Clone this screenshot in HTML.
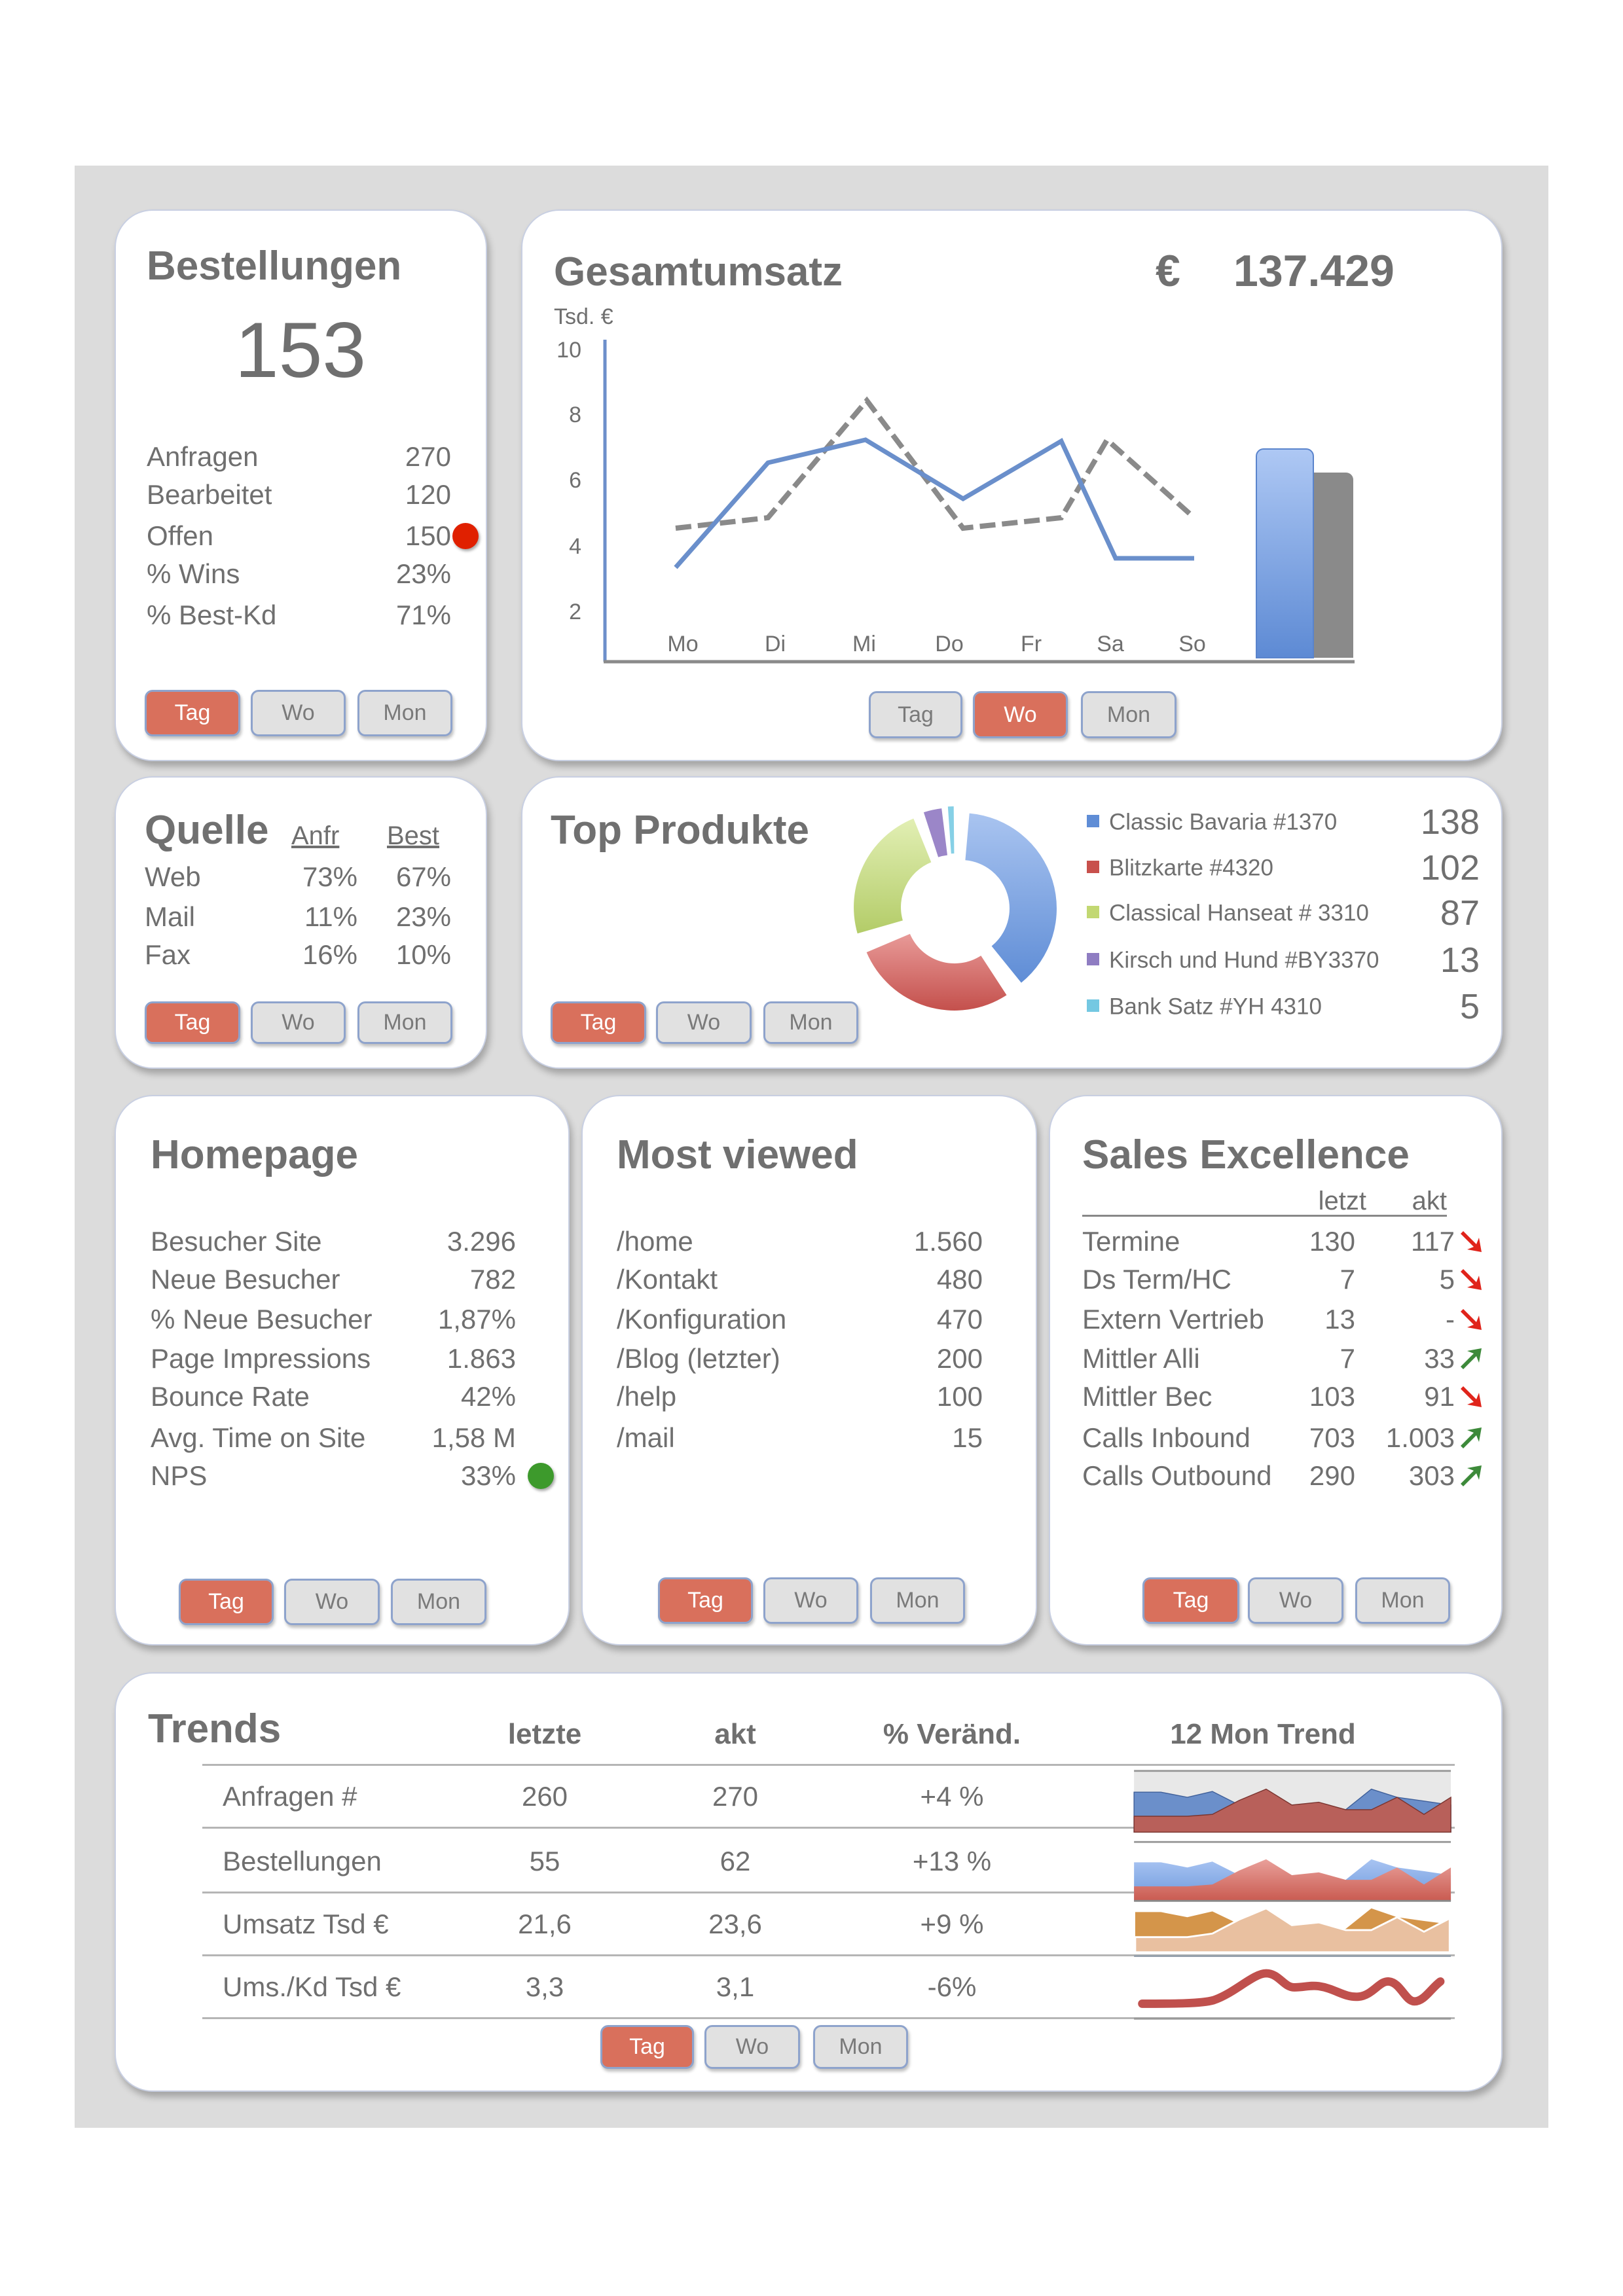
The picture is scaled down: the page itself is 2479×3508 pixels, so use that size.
<!DOCTYPE html>
<html><head><meta charset="utf-8">
<style>
html,body{margin:0;padding:0;}
body{width:2479px;height:3508px;position:relative;background:#fff;font-family:"Liberation Sans",sans-serif;color:#6f6f6f;overflow:hidden;}
.bg{position:absolute;left:114px;top:253px;width:2251px;height:2998px;background:#dcdcdc;}
.p{position:absolute;background:#fff;border:2px solid #c8cfe2;border-radius:58px;box-shadow:4px 8px 10px rgba(0,0,0,0.25);}
.t{position:absolute;white-space:nowrap;line-height:1;transform:translateY(-50%);}
.tc{position:absolute;white-space:nowrap;line-height:1;transform:translate(-50%,-50%);}
.h{font-weight:bold;font-size:62px;color:#707070;}
.r{font-size:42px;}
.b{position:absolute;box-sizing:border-box;border:3px solid #8ea3cc;border-radius:12px;background:#e1e1e1;color:#7a7a7a;font-size:34px;display:flex;align-items:center;justify-content:center;box-shadow:2px 4px 5px rgba(0,0,0,0.25);}
.b.a{background:#d9705c;color:#fff;}
.ln{position:absolute;height:3px;background:#b5b5b5;}
</style></head><body>
<div class="bg"></div>

<!-- Bestellungen -->
<div class="p" style="left:175px;top:320px;width:565px;height:839px;"></div>
<div class="t h" style="left:224px;top:407px;">Bestellungen</div>
<div class="tc" style="left:459px;top:535px;font-size:120px;color:#6f6f6f;">153</div>
<div class="t r" style="left:224px;top:698px;">Anfragen</div><div class="t r" style="right:1790px;top:698px;">270</div>
<div class="t r" style="left:224px;top:756px;">Bearbeitet</div><div class="t r" style="right:1790px;top:756px;">120</div>
<div class="t r" style="left:224px;top:819px;">Offen</div><div class="t r" style="right:1790px;top:819px;">150</div>
<div class="t r" style="left:224px;top:877px;">% Wins</div><div class="t r" style="right:1790px;top:877px;">23%</div>
<div class="t r" style="left:224px;top:940px;">% Best-Kd</div><div class="t r" style="right:1790px;top:940px;">71%</div>
<div style="position:absolute;left:691px;top:799px;width:40px;height:40px;border-radius:50%;background:#e02000;box-shadow:2px 3px 4px rgba(0,0,0,0.35);"></div>
<div class="b a" style="left:221px;top:1054px;width:146px;height:71px;">Tag</div>
<div class="b" style="left:383px;top:1054px;width:145px;height:71px;">Wo</div>
<div class="b" style="left:546px;top:1054px;width:145px;height:71px;">Mon</div>

<!-- Gesamtumsatz -->
<div class="p" style="left:796px;top:320px;width:1495px;height:839px;"></div>
<div class="t h" style="left:846px;top:416px;">Gesamtumsatz</div>
<div class="t h" style="left:1765px;top:414px;font-size:68px;">€</div>
<div class="t h" style="left:1884px;top:414px;font-size:68px;">137.429</div>
<div class="t" style="left:846px;top:484px;font-size:34px;">Tsd. €</div>
<div class="t" style="right:1591px;top:535px;font-size:34px;">10</div>
<div class="t" style="right:1591px;top:634px;font-size:34px;">8</div>
<div class="t" style="right:1591px;top:734px;font-size:34px;">6</div>
<div class="t" style="right:1591px;top:835px;font-size:34px;">4</div>
<div class="t" style="right:1591px;top:935px;font-size:34px;">2</div>
<div class="tc" style="left:1043px;top:984px;font-size:34px;">Mo</div>
<div class="tc" style="left:1184px;top:984px;font-size:34px;">Di</div>
<div class="tc" style="left:1320px;top:984px;font-size:34px;">Mi</div>
<div class="tc" style="left:1450px;top:984px;font-size:34px;">Do</div>
<div class="tc" style="left:1575px;top:984px;font-size:34px;">Fr</div>
<div class="tc" style="left:1696px;top:984px;font-size:34px;">Sa</div>
<div class="tc" style="left:1821px;top:984px;font-size:34px;">So</div>
<svg style="position:absolute;left:0;top:0;" width="2479" height="1200">
<defs><linearGradient id="bb" x1="0" y1="0" x2="0" y2="1"><stop offset="0" stop-color="#aec8f4"/><stop offset="1" stop-color="#5d8ad4"/></linearGradient></defs>
<line x1="924" y1="519" x2="924" y2="1011" stroke="#6d8fca" stroke-width="5"/>
<line x1="922" y1="1011" x2="2069" y2="1011" stroke="#8a8a8a" stroke-width="5"/>
<polyline points="1032,807 1173,791 1324,612 1471,807 1621,791 1691,672 1824,791" fill="none" stroke="#8a8a8a" stroke-width="8" stroke-dasharray="24,10"/>
<polyline points="1032,867 1173,707 1322,672 1471,762 1621,674 1704,853 1824,853" fill="none" stroke="#6a8fcb" stroke-width="7"/>
<path d="M2006,722 h50 a11,11 0 0 1 11,11 V1005 h-61 Z" fill="#8a8a8a"/>
<path d="M1919,1005 V697 a11,11 0 0 1 11,-11 h65 a11,11 0 0 1 11,11 V1005 Z" fill="url(#bb)" stroke="#5a84cc" stroke-width="2"/>
</svg>
<div class="b" style="left:1327px;top:1056px;width:143px;height:72px;">Tag</div>
<div class="b a" style="left:1486px;top:1056px;width:145px;height:72px;">Wo</div>
<div class="b" style="left:1651px;top:1056px;width:146px;height:72px;">Mon</div>

<!-- Quelle -->
<div class="p" style="left:175px;top:1186px;width:565px;height:443px;"></div>
<div class="t h" style="left:221px;top:1269px;">Quelle</div>
<div class="t" style="left:445px;top:1277px;font-size:40px;text-decoration:underline;">Anfr</div>
<div class="t" style="left:591px;top:1277px;font-size:40px;text-decoration:underline;">Best</div>
<div class="t r" style="left:221px;top:1340px;">Web</div><div class="t r" style="right:1933px;top:1340px;">73%</div><div class="t r" style="right:1790px;top:1340px;">67%</div>
<div class="t r" style="left:221px;top:1401px;">Mail</div><div class="t r" style="right:1933px;top:1401px;">11%</div><div class="t r" style="right:1790px;top:1401px;">23%</div>
<div class="t r" style="left:221px;top:1459px;">Fax</div><div class="t r" style="right:1933px;top:1459px;">16%</div><div class="t r" style="right:1790px;top:1459px;">10%</div>
<div class="b a" style="left:221px;top:1530px;width:146px;height:65px;">Tag</div>
<div class="b" style="left:383px;top:1530px;width:145px;height:65px;">Wo</div>
<div class="b" style="left:546px;top:1530px;width:145px;height:65px;">Mon</div>

<!-- Top Produkte -->
<div class="p" style="left:796px;top:1186px;width:1495px;height:443px;"></div>
<div class="t h" style="left:841px;top:1269px;">Top Produkte</div>
<svg style="position:absolute;left:1300px;top:1220px;" width="340" height="340" viewBox="1300 1220 340 340">
<defs>
<linearGradient id="gb" x1="0" y1="0" x2="0" y2="1"><stop offset="0" stop-color="#a9c4f0"/><stop offset="1" stop-color="#5f8dd6"/></linearGradient>
<linearGradient id="gr" x1="0" y1="0" x2="0" y2="1"><stop offset="0" stop-color="#e89a98"/><stop offset="1" stop-color="#c4504c"/></linearGradient>
<linearGradient id="gg" x1="0" y1="0" x2="0" y2="1"><stop offset="0" stop-color="#e2efb4"/><stop offset="1" stop-color="#b3cc68"/></linearGradient>
</defs>
<g id="donut"></g>
</svg>
<script>
(function(){
var cx=1458,cy=1388,R=146,r=74;
var segs=[[5,141,'url(#gb)',10,0],[147,247,'url(#gr)',0,10],[254,338,'url(#gg)',-8,-2],[342,353,'#9b86c8',-2,-8],[356,359.5,'#86d0e6',0,-10]];
var g=document.getElementById('donut'),h='';
function pt(a,rad,dx,dy){var t=(a-90)*Math.PI/180;return (cx+dx+rad*Math.cos(t)).toFixed(1)+','+(cy+dy+rad*Math.sin(t)).toFixed(1);}
segs.forEach(function(s){var a0=s[0],a1=s[1],l=(a1-a0)>180?1:0,dx=s[3],dy=s[4];
h+='<path d="M'+pt(a0,R,dx,dy)+' A'+R+','+R+' 0 '+l+' 1 '+pt(a1,R,dx,dy)+' L'+pt(a1,r,dx,dy)+' A'+r+','+r+' 0 '+l+' 0 '+pt(a0,r,dx,dy)+' Z" fill="'+s[2]+'"/>';});
g.innerHTML=h;})();
</script>
<div style="position:absolute;left:1660px;top:1245px;width:19px;height:19px;background:#5f8dd6;"></div>
<div style="position:absolute;left:1660px;top:1315px;width:19px;height:19px;background:#c8504c;"></div>
<div style="position:absolute;left:1660px;top:1384px;width:19px;height:19px;background:#c2d872;"></div>
<div style="position:absolute;left:1660px;top:1456px;width:19px;height:19px;background:#8f7dc2;"></div>
<div style="position:absolute;left:1660px;top:1527px;width:19px;height:19px;background:#74c8e2;"></div>
<div class="t" style="left:1694px;top:1256px;font-size:35px;">Classic Bavaria #1370</div>
<div class="t" style="left:1694px;top:1326px;font-size:35px;">Blitzkarte #4320</div>
<div class="t" style="left:1694px;top:1395px;font-size:35px;">Classical Hanseat # 3310</div>
<div class="t" style="left:1694px;top:1467px;font-size:35px;">Kirsch und Hund #BY3370</div>
<div class="t" style="left:1694px;top:1538px;font-size:35px;">Bank Satz #YH 4310</div>
<div class="t" style="right:219px;top:1256px;font-size:54px;">138</div>
<div class="t" style="right:219px;top:1326px;font-size:54px;">102</div>
<div class="t" style="right:219px;top:1395px;font-size:54px;">87</div>
<div class="t" style="right:219px;top:1467px;font-size:54px;">13</div>
<div class="t" style="right:219px;top:1538px;font-size:54px;">5</div>
<div class="b a" style="left:841px;top:1530px;width:146px;height:65px;">Tag</div>
<div class="b" style="left:1002px;top:1530px;width:146px;height:65px;">Wo</div>
<div class="b" style="left:1166px;top:1530px;width:145px;height:65px;">Mon</div>

<!-- Homepage -->
<div class="p" style="left:175px;top:1673px;width:691px;height:837px;"></div>
<div class="t h" style="left:230px;top:1765px;">Homepage</div>
<div class="t r" style="left:230px;top:1897px;">Besucher Site</div><div class="t r" style="right:1691px;top:1897px;">3.296</div>
<div class="t r" style="left:230px;top:1955px;">Neue Besucher</div><div class="t r" style="right:1691px;top:1955px;">782</div>
<div class="t r" style="left:230px;top:2016px;">% Neue Besucher</div><div class="t r" style="right:1691px;top:2016px;">1,87%</div>
<div class="t r" style="left:230px;top:2076px;">Page Impressions</div><div class="t r" style="right:1691px;top:2076px;">1.863</div>
<div class="t r" style="left:230px;top:2134px;">Bounce Rate</div><div class="t r" style="right:1691px;top:2134px;">42%</div>
<div class="t r" style="left:230px;top:2197px;">Avg. Time on Site</div><div class="t r" style="right:1691px;top:2197px;">1,58 M</div>
<div class="t r" style="left:230px;top:2255px;">NPS</div><div class="t r" style="right:1691px;top:2255px;">33%</div>
<div style="position:absolute;left:806px;top:2235px;width:40px;height:40px;border-radius:50%;background:#3d9a2c;box-shadow:2px 3px 4px rgba(0,0,0,0.35);"></div>
<div class="b a" style="left:273px;top:2412px;width:145px;height:71px;">Tag</div>
<div class="b" style="left:434px;top:2412px;width:146px;height:71px;">Wo</div>
<div class="b" style="left:597px;top:2412px;width:146px;height:71px;">Mon</div>

<!-- Most viewed -->
<div class="p" style="left:888px;top:1673px;width:692px;height:837px;"></div>
<div class="t h" style="left:942px;top:1765px;">Most viewed</div>
<div class="t r" style="left:942px;top:1897px;">/home</div><div class="t r" style="right:978px;top:1897px;">1.560</div>
<div class="t r" style="left:942px;top:1955px;">/Kontakt</div><div class="t r" style="right:978px;top:1955px;">480</div>
<div class="t r" style="left:942px;top:2016px;">/Konfiguration</div><div class="t r" style="right:978px;top:2016px;">470</div>
<div class="t r" style="left:942px;top:2076px;">/Blog (letzter)</div><div class="t r" style="right:978px;top:2076px;">200</div>
<div class="t r" style="left:942px;top:2134px;">/help</div><div class="t r" style="right:978px;top:2134px;">100</div>
<div class="t r" style="left:942px;top:2197px;">/mail</div><div class="t r" style="right:978px;top:2197px;">15</div>
<div class="b a" style="left:1005px;top:2410px;width:145px;height:71px;">Tag</div>
<div class="b" style="left:1166px;top:2410px;width:145px;height:71px;">Wo</div>
<div class="b" style="left:1329px;top:2410px;width:145px;height:71px;">Mon</div>

<!-- Sales Excellence -->
<div class="p" style="left:1602px;top:1673px;width:689px;height:837px;"></div>
<div class="t h" style="left:1653px;top:1765px;">Sales Excellence</div>
<div class="t" style="right:392px;top:1835px;font-size:40px;">letzt</div>
<div class="t" style="right:269px;top:1835px;font-size:40px;">akt</div>
<div style="position:absolute;left:1653px;top:1856px;width:557px;height:3px;background:#888;"></div>
<div class="t r" style="left:1653px;top:1897px;">Termine</div><div class="t r" style="right:409px;top:1897px;">130</div><div class="t r" style="right:257px;top:1897px;">117</div>
<div class="t r" style="left:1653px;top:1955px;">Ds Term/HC</div><div class="t r" style="right:409px;top:1955px;">7</div><div class="t r" style="right:257px;top:1955px;">5</div>
<div class="t r" style="left:1653px;top:2016px;">Extern Vertrieb</div><div class="t r" style="right:409px;top:2016px;">13</div><div class="t r" style="right:257px;top:2016px;">-</div>
<div class="t r" style="left:1653px;top:2076px;">Mittler Alli</div><div class="t r" style="right:409px;top:2076px;">7</div><div class="t r" style="right:257px;top:2076px;">33</div>
<div class="t r" style="left:1653px;top:2134px;">Mittler Bec</div><div class="t r" style="right:409px;top:2134px;">103</div><div class="t r" style="right:257px;top:2134px;">91</div>
<div class="t r" style="left:1653px;top:2197px;">Calls Inbound</div><div class="t r" style="right:409px;top:2197px;">703</div><div class="t r" style="right:257px;top:2197px;">1.003</div>
<div class="t r" style="left:1653px;top:2255px;">Calls Outbound</div><div class="t r" style="right:409px;top:2255px;">290</div><div class="t r" style="right:257px;top:2255px;">303</div>
<svg style="position:absolute;left:2225px;top:1870px;" width="50" height="410">
<defs>
<g id="dn"><path d="M4,4 L24,24 L28,14 L32,36 L10,32 L20,28 L0,8 Z" fill="#e0241b"/></g>
<g id="up"><path d="M4,36 L24,16 L28,26 L32,4 L10,8 L20,12 L0,32 Z" fill="#3d8a3a"/></g>
</defs>
<use href="#dn" x="6" y="7"/><use href="#dn" x="6" y="65"/><use href="#dn" x="6" y="126"/>
<use href="#up" x="6" y="186"/><use href="#dn" x="6" y="244"/><use href="#up" x="6" y="307"/><use href="#up" x="6" y="365"/>
</svg>
<div class="b a" style="left:1745px;top:2410px;width:148px;height:71px;">Tag</div>
<div class="b" style="left:1906px;top:2410px;width:146px;height:71px;">Wo</div>
<div class="b" style="left:2070px;top:2410px;width:145px;height:71px;">Mon</div>

<!-- Trends -->
<div class="p" style="left:175px;top:2555px;width:2116px;height:637px;"></div>
<div class="t h" style="left:226px;top:2642px;">Trends</div>
<div class="tc" style="left:832px;top:2650px;font-size:44px;font-weight:bold;">letzte</div>
<div class="tc" style="left:1123px;top:2650px;font-size:44px;font-weight:bold;">akt</div>
<div class="tc" style="left:1454px;top:2650px;font-size:44px;font-weight:bold;">% Veränd.</div>
<div class="tc" style="left:1929px;top:2650px;font-size:44px;font-weight:bold;">12 Mon Trend</div>
<div class="ln" style="left:309px;top:2695px;width:1913px;"></div>
<div class="ln" style="left:309px;top:2791px;width:1913px;"></div>
<div class="ln" style="left:309px;top:2890px;width:1913px;"></div>
<div class="ln" style="left:309px;top:2986px;width:1913px;"></div>
<div class="ln" style="left:309px;top:3082px;width:1913px;"></div>
<div class="t r" style="left:340px;top:2745px;">Anfragen #</div><div class="tc r" style="left:832px;top:2745px;">260</div><div class="tc r" style="left:1123px;top:2745px;">270</div><div class="tc r" style="left:1454px;top:2745px;">+4 %</div>
<div class="t r" style="left:340px;top:2844px;">Bestellungen</div><div class="tc r" style="left:832px;top:2844px;">55</div><div class="tc r" style="left:1123px;top:2844px;">62</div><div class="tc r" style="left:1454px;top:2844px;">+13 %</div>
<div class="t r" style="left:340px;top:2940px;">Umsatz Tsd €</div><div class="tc r" style="left:832px;top:2940px;">21,6</div><div class="tc r" style="left:1123px;top:2940px;">23,6</div><div class="tc r" style="left:1454px;top:2940px;">+9 %</div>
<div class="t r" style="left:340px;top:3036px;">Ums./Kd Tsd €</div><div class="tc r" style="left:832px;top:3036px;">3,3</div><div class="tc r" style="left:1123px;top:3036px;">3,1</div><div class="tc r" style="left:1454px;top:3036px;">-6%</div>
<svg style="position:absolute;left:1700px;top:2640px;" width="560" height="450" viewBox="0 0 1568 1260">
<defs>
<linearGradient id="l2b" x1="0" y1="0" x2="0" y2="1"><stop offset="0" stop-color="#a8c4f2"/><stop offset="1" stop-color="#6d98dc"/></linearGradient>
<linearGradient id="l2r" x1="0" y1="0" x2="0" y2="1"><stop offset="0" stop-color="#e9a09a"/><stop offset="1" stop-color="#c95a50"/></linearGradient>
</defs>
<rect x="90" y="183" width="1355" height="263" fill="#e8e8e8"/>
<rect x="90" y="180" width="1355" height="8" fill="#999"/>
<polygon points="90,446 90,275 205,275 318,297 425,272 540,330 655,330 765,340 880,345 995,350 1105,262 1215,297 1330,313 1445,330 1445,446" fill="#6b8fca" stroke="#40609a" stroke-width="4"/>
<polygon points="90,446 90,378 318,378 425,370 540,310 655,262 765,330 880,318 995,350 1105,350 1215,297 1330,370 1445,297 1445,446" fill="#b8605a" stroke="#7a3530" stroke-width="4"/>
<rect x="90" y="484" width="1355" height="8" fill="#999"/>
<g transform="translate(0,300)">
<polygon points="90,442 90,275 205,275 318,297 425,272 540,330 655,330 765,340 880,345 995,350 1105,262 1215,297 1330,313 1445,330 1445,442" fill="url(#l2b)"/>
<polygon points="90,442 90,378 318,378 425,370 540,310 655,262 765,330 880,318 995,350 1105,350 1215,297 1330,370 1445,297 1445,442" fill="url(#l2r)"/>
</g>
<rect x="90" y="736" width="1355" height="8" fill="#888"/>
<g transform="translate(0,510)">
<polygon points="95,450 95,278 205,278 318,300 425,275 540,330 655,330 765,340 880,345 995,350 1105,262 1215,300 1330,316 1440,330 1440,450" fill="#d4954a"/>
<polygon points="95,450 95,385 318,385 425,370 540,310 655,262 765,334 880,322 995,355 1105,355 1215,300 1330,362 1440,305 1440,450" fill="#e9c0a0" stroke="#fff" stroke-width="8"/>
</g>
<rect x="90" y="972" width="1355" height="8" fill="#95a0ab"/>
<g transform="translate(0,-75)">
<path d="M125,1255 C250,1255 380,1255 430,1240 C520,1210 600,1125 655,1125 C710,1125 730,1185 775,1185 C820,1185 840,1175 880,1180 C950,1190 990,1230 1050,1225 C1110,1220 1140,1155 1180,1160 C1230,1165 1250,1245 1290,1245 C1330,1245 1360,1190 1400,1160" fill="none" stroke="#c0504d" stroke-width="36" stroke-linecap="round"/>
</g>
<rect x="90" y="1240" width="1355" height="8" fill="#999"/>
</svg>
<div class="b a" style="left:917px;top:3094px;width:143px;height:67px;">Tag</div>
<div class="b" style="left:1076px;top:3094px;width:146px;height:67px;">Wo</div>
<div class="b" style="left:1242px;top:3094px;width:145px;height:67px;">Mon</div>
</body></html>
